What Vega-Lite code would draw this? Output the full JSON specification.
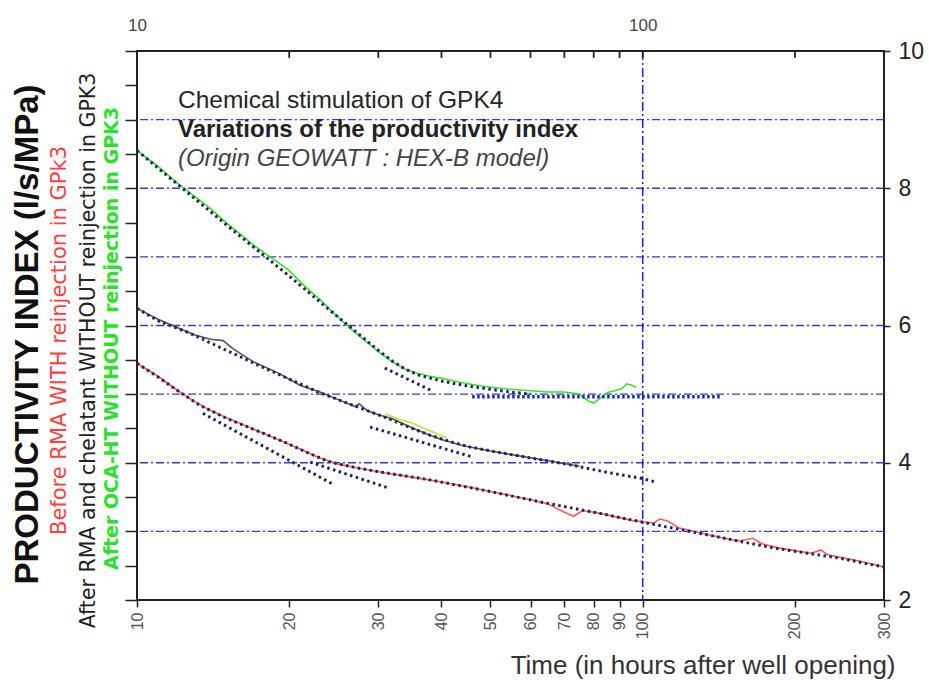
{
  "$schema": "https://vega.github.io/schema/vega-lite/v6.json",
  "width": 747,
  "height": 549,
  "autosize": {"type": "none"},
  "padding": {"left": 137, "top": 51, "right": 45, "bottom": 80},
  "background": "white",
  "config": {
    "view": {"stroke": "#222", "strokeWidth": 2},
    "font": "Liberation Sans"
  },
  "datasets": {
    "grid": [{"g": 3}, {"g": 4}, {"g": 5}, {"g": 6}, {"g": 7}, {"g": 8}, {"g": 9}],
    "vline": [{"t": 100}],
    "topticks": [{"t": 20}, {"t": 30}, {"t": 40}, {"t": 50}, {"t": 60}, {"t": 70}, {"t": 80}, {"t": 90}, {"t": 100}, {"t": 200}],
    "obs": [
      {"s": "red", "t": 10, "v": 5.45}, {"s": "red", "t": 11, "v": 5.26}, {"s": "red", "t": 12, "v": 5.06}, {"s": "red", "t": 13, "v": 4.89},
      {"s": "red", "t": 14, "v": 4.76}, {"s": "red", "t": 15, "v": 4.66}, {"s": "red", "t": 17, "v": 4.49}, {"s": "red", "t": 19, "v": 4.34},
      {"s": "red", "t": 21, "v": 4.2}, {"s": "red", "t": 23, "v": 4.07}, {"s": "red", "t": 25, "v": 3.98}, {"s": "red", "t": 28, "v": 3.91},
      {"s": "red", "t": 31, "v": 3.85}, {"s": "red", "t": 35, "v": 3.79}, {"s": "red", "t": 40, "v": 3.72}, {"s": "red", "t": 45, "v": 3.65},
      {"s": "red", "t": 50, "v": 3.58}, {"s": "red", "t": 55, "v": 3.52}, {"s": "red", "t": 60, "v": 3.46}, {"s": "red", "t": 65, "v": 3.4},
      {"s": "red", "t": 70, "v": 3.28}, {"s": "red", "t": 73, "v": 3.22}, {"s": "red", "t": 76, "v": 3.3}, {"s": "red", "t": 80, "v": 3.28},
      {"s": "red", "t": 85, "v": 3.24}, {"s": "red", "t": 90, "v": 3.2}, {"s": "red", "t": 95, "v": 3.16}, {"s": "red", "t": 100, "v": 3.14},
      {"s": "red", "t": 105, "v": 3.12}, {"s": "red", "t": 108, "v": 3.18}, {"s": "red", "t": 112, "v": 3.15}, {"s": "red", "t": 118, "v": 3.05},
      {"s": "red", "t": 125, "v": 3.01}, {"s": "red", "t": 135, "v": 2.95}, {"s": "red", "t": 145, "v": 2.9}, {"s": "red", "t": 155, "v": 2.86},
      {"s": "red", "t": 165, "v": 2.9}, {"s": "red", "t": 172, "v": 2.82}, {"s": "red", "t": 185, "v": 2.76}, {"s": "red", "t": 200, "v": 2.72},
      {"s": "red", "t": 215, "v": 2.68}, {"s": "red", "t": 225, "v": 2.73}, {"s": "red", "t": 232, "v": 2.66}, {"s": "red", "t": 250, "v": 2.61},
      {"s": "red", "t": 270, "v": 2.56}, {"s": "red", "t": 285, "v": 2.52}, {"s": "red", "t": 300, "v": 2.48},
      {"s": "black", "t": 10, "v": 6.25}, {"s": "black", "t": 11, "v": 6.09}, {"s": "black", "t": 12, "v": 5.97}, {"s": "black", "t": 13, "v": 5.86},
      {"s": "black", "t": 14, "v": 5.8}, {"s": "black", "t": 14.8, "v": 5.78}, {"s": "black", "t": 15.5, "v": 5.66}, {"s": "black", "t": 17, "v": 5.47},
      {"s": "black", "t": 19, "v": 5.31}, {"s": "black", "t": 21, "v": 5.13}, {"s": "black", "t": 23, "v": 5.03}, {"s": "black", "t": 25, "v": 4.92},
      {"s": "black", "t": 27, "v": 4.82}, {"s": "black", "t": 27.5, "v": 4.86}, {"s": "black", "t": 28.5, "v": 4.76}, {"s": "black", "t": 30, "v": 4.7},
      {"s": "black", "t": 32, "v": 4.64}, {"s": "black", "t": 34, "v": 4.55}, {"s": "black", "t": 36, "v": 4.47}, {"s": "black", "t": 38, "v": 4.4},
      {"s": "black", "t": 40, "v": 4.34}, {"s": "black", "t": 44, "v": 4.25}, {"s": "black", "t": 50, "v": 4.17}, {"s": "black", "t": 57, "v": 4.1},
      {"s": "black", "t": 65, "v": 4.03}, {"s": "black", "t": 75, "v": 3.95},
      {"s": "green", "t": 10, "v": 8.55}, {"s": "green", "t": 11, "v": 8.32}, {"s": "green", "t": 12, "v": 8.08}, {"s": "green", "t": 13, "v": 7.88},
      {"s": "green", "t": 14, "v": 7.7}, {"s": "green", "t": 15, "v": 7.5}, {"s": "green", "t": 16, "v": 7.33}, {"s": "green", "t": 17, "v": 7.17},
      {"s": "green", "t": 18, "v": 7.04}, {"s": "green", "t": 19, "v": 6.92}, {"s": "green", "t": 20, "v": 6.8}, {"s": "green", "t": 21, "v": 6.64},
      {"s": "green", "t": 22, "v": 6.5}, {"s": "green", "t": 23, "v": 6.38}, {"s": "green", "t": 24, "v": 6.24}, {"s": "green", "t": 25, "v": 6.12},
      {"s": "green", "t": 26, "v": 6.0}, {"s": "green", "t": 27, "v": 5.9}, {"s": "green", "t": 28, "v": 5.8}, {"s": "green", "t": 29, "v": 5.71},
      {"s": "green", "t": 30, "v": 5.62}, {"s": "green", "t": 32, "v": 5.47}, {"s": "green", "t": 34, "v": 5.36}, {"s": "green", "t": 36, "v": 5.3},
      {"s": "green", "t": 38, "v": 5.26}, {"s": "green", "t": 40, "v": 5.23}, {"s": "green", "t": 43, "v": 5.18}, {"s": "green", "t": 46, "v": 5.14},
      {"s": "green", "t": 50, "v": 5.1}, {"s": "green", "t": 55, "v": 5.07}, {"s": "green", "t": 60, "v": 5.05}, {"s": "green", "t": 65, "v": 5.03},
      {"s": "green", "t": 70, "v": 5.03}, {"s": "green", "t": 75, "v": 5.0}, {"s": "green", "t": 78, "v": 4.9}, {"s": "green", "t": 80, "v": 4.87},
      {"s": "green", "t": 82, "v": 4.93}, {"s": "green", "t": 85, "v": 5.02}, {"s": "green", "t": 88, "v": 5.05}, {"s": "green", "t": 91, "v": 5.08},
      {"s": "green", "t": 93, "v": 5.15}, {"s": "green", "t": 95, "v": 5.13}, {"s": "green", "t": 97, "v": 5.1},
      {"s": "green2", "t": 31, "v": 4.71}, {"s": "green2", "t": 33, "v": 4.63}, {"s": "green2", "t": 35, "v": 4.58}, {"s": "green2", "t": 37, "v": 4.5},
      {"s": "green2", "t": 39, "v": 4.43}, {"s": "green2", "t": 41, "v": 4.36}
    ],
    "model": [
      {"s": "green", "t": 10, "v": 8.55}, {"s": "green", "t": 15, "v": 7.47}, {"s": "green", "t": 20, "v": 6.72}, {"s": "green", "t": 25, "v": 6.12},
      {"s": "green", "t": 30, "v": 5.64}, {"s": "green", "t": 32, "v": 5.48}, {"s": "green", "t": 34, "v": 5.36}, {"s": "green", "t": 36, "v": 5.28},
      {"s": "green", "t": 40, "v": 5.19}, {"s": "green", "t": 45, "v": 5.12}, {"s": "green", "t": 50, "v": 5.07}, {"s": "green", "t": 55, "v": 5.03},
      {"s": "green", "t": 60, "v": 5.0},
      {"s": "black", "t": 10, "v": 6.25}, {"s": "black", "t": 11, "v": 6.07}, {"s": "black", "t": 12.7, "v": 5.89}, {"s": "black", "t": 15, "v": 5.64},
      {"s": "black", "t": 17.75, "v": 5.39}, {"s": "black", "t": 20, "v": 5.22}, {"s": "black", "t": 23, "v": 5.02}, {"s": "black", "t": 27.6, "v": 4.8},
      {"s": "black", "t": 32, "v": 4.62}, {"s": "black", "t": 35, "v": 4.5}, {"s": "black", "t": 38, "v": 4.4}, {"s": "black", "t": 42, "v": 4.3},
      {"s": "black", "t": 45.5, "v": 4.23}, {"s": "black", "t": 52, "v": 4.15}, {"s": "black", "t": 60, "v": 4.07}, {"s": "black", "t": 72, "v": 3.97},
      {"s": "black", "t": 85, "v": 3.86}, {"s": "black", "t": 100, "v": 3.77}, {"s": "black", "t": 106, "v": 3.72},
      {"s": "red", "t": 10, "v": 5.45}, {"s": "red", "t": 11, "v": 5.25}, {"s": "red", "t": 12.2, "v": 5.02}, {"s": "red", "t": 13.3, "v": 4.84},
      {"s": "red", "t": 15, "v": 4.65}, {"s": "red", "t": 17.5, "v": 4.45}, {"s": "red", "t": 20, "v": 4.27}, {"s": "red", "t": 22, "v": 4.13},
      {"s": "red", "t": 24.1, "v": 4.01}, {"s": "red", "t": 27, "v": 3.93}, {"s": "red", "t": 30, "v": 3.87}, {"s": "red", "t": 38, "v": 3.75},
      {"s": "red", "t": 50, "v": 3.58}, {"s": "red", "t": 62.6, "v": 3.43}, {"s": "red", "t": 80, "v": 3.28}, {"s": "red", "t": 99, "v": 3.14},
      {"s": "red", "t": 134, "v": 2.95}, {"s": "red", "t": 181, "v": 2.76}, {"s": "red", "t": 245, "v": 2.61}, {"s": "red", "t": 300, "v": 2.48}
    ],
    "tan": [
      {"s": "r1", "t": 13.5, "v": 4.72}, {"s": "r1", "t": 24.5, "v": 3.68},
      {"s": "r2", "t": 22, "v": 4.01}, {"s": "r2", "t": 31.2, "v": 3.64},
      {"s": "b1", "t": 28.9, "v": 4.52}, {"s": "b1", "t": 46.3, "v": 4.08},
      {"s": "g1", "t": 30.9, "v": 5.38}, {"s": "g1", "t": 38, "v": 5.06}
    ],
    "plat": [{"t": 46, "v": 4.96}, {"t": 142, "v": 4.96}],
    "t1": [{"label": "Chemical stimulation of GPK4"}],
    "t2": [{"label": "Variations of the productivity index"}],
    "t3": [{"label": "(Origin GEOWATT : HEX-B model)"}]
  },
  "resolve": {"axis": {"x": "independent", "y": "independent"}},
  "layer": [
    {
      "data": {"name": "grid"},
      "mark": {"type": "rule", "color": "#3838d8", "strokeWidth": 1.3, "strokeDash": [8, 3, 2, 3]},
      "encoding": {
        "y": {
          "field": "g", "type": "quantitative",
          "scale": {"domain": [2, 10], "nice": false, "zero": false},
          "axis": {
            "orient": "right", "values": [2, 4, 6, 8, 10], "domain": false, "grid": false,
            "tickSize": 6, "tickColor": "#222", "tickWidth": 1.5, "labelPadding": 8,
            "labelFont": "Liberation Sans", "labelFontSize": 23, "labelColor": "#222",
            "title": null, "minExtent": 0
          }
        }
      }
    },
    {
      "data": {"name": "vline"},
      "mark": {"type": "rule", "color": "#2020e0", "strokeWidth": 1.5, "strokeDash": [9, 3, 2, 3]},
      "encoding": {
        "x": {
          "field": "t", "type": "quantitative",
          "scale": {"type": "log", "domain": [10, 300], "nice": false},
          "axis": {
            "orient": "bottom", "values": [10, 20, 30, 40, 50, 60, 70, 80, 90, 100, 200, 300],
            "labelExpr": "format(datum.value, 'd')", "labelAngle": -90, "labelFlush": false, "labelOverlap": false,
            "domain": false, "grid": false, "tickSize": 7, "tickColor": "#222", "tickWidth": 1.5,
            "labelPadding": 5, "labelFont": "Liberation Sans", "labelFontSize": 16, "labelColor": "#555",
            "title": "Time (in hours after well opening)", "titleFont": "Liberation Sans", "titleFontSize": 26,
            "titleFontWeight": "normal", "titleColor": "#333", "titleX": 758, "titleY": 73,
            "titleAlign": "right", "titleBaseline": "alphabetic", "titleAngle": 0
          }
        }
      }
    },
    {
      "data": {"name": "topticks"},
      "mark": {"type": "rule", "color": "#222", "strokeWidth": 1.8},
      "encoding": {
        "x": {"field": "t", "type": "quantitative", "axis": null},
        "y": {"datum": 10, "type": "quantitative", "axis": null},
        "y2": {"datum": 9.9}
      }
    },
    {
      "data": {"name": "obs"},
      "mark": {"type": "line", "strokeWidth": 1.6},
      "encoding": {
        "x": {
          "field": "t", "type": "quantitative",
          "scale": {"type": "log", "domain": [10, 300], "nice": false},
          "axis": {
            "orient": "top", "values": [10, 100],
            "labelExpr": "datum.value == 10 ? '10' : '100'",
            "labelFlush": false, "labelOverlap": false, "domain": false, "grid": false, "ticks": false,
            "labelPadding": 17,
            "labelFont": "Liberation Sans", "labelFontSize": 17, "labelColor": "#444", "title": null
          }
        },
        "y": {
          "field": "v", "type": "quantitative",
          "scale": {"domain": [2, 10], "nice": false, "zero": false},
          "axis": {
            "orient": "left", "values": [2, 2.5, 3, 3.5, 4, 4.5, 5, 5.5, 6, 6.5, 7, 7.5, 8, 8.5, 9, 9.5, 10],
            "labels": false, "domain": false, "grid": false, "tickSize": 12, "tickColor": "#222", "tickWidth": 1.5,
            "minExtent": 0, "title": "After OCA-HT WITHOUT reinjection in GPK3",
            "titleFont": "DejaVu Sans", "titleFontSize": 19, "titleFontWeight": "bold", "titleColor": "#2ee02e",
            "titleX": -16, "titleY": 287, "titleAngle": -90, "titleBaseline": "bottom", "titleAlign": "center"
          }
        },
        "color": {
          "field": "s", "type": "nominal", "legend": null,
          "scale": {"domain": ["red", "black", "green", "green2"], "range": ["#ff5a5a", "#555555", "#3fe02a", "#b8e830"]}
        }
      }
    },
    {
      "data": {"name": "model"},
      "mark": {"type": "line", "color": "#1c2160", "strokeWidth": 3, "strokeDash": [2.5, 3.5]},
      "encoding": {
        "x": {"field": "t", "type": "quantitative", "axis": null},
        "y": {
          "field": "v", "type": "quantitative",
          "axis": {
            "orient": "left", "labels": false, "ticks": false, "domain": false, "grid": false, "minExtent": 0,
            "title": "After RMA and chelatant  WITHOUT reinjection in GPK3",
            "titleFont": "DejaVu Sans", "titleFontSize": 20.5, "titleFontWeight": "normal", "titleColor": "#222",
            "titleX": -39, "titleY": 299, "titleAngle": -90, "titleBaseline": "bottom", "titleAlign": "center"
          }
        },
        "detail": {"field": "s"}
      }
    },
    {
      "data": {"name": "tan"},
      "mark": {"type": "line", "color": "#1c2160", "strokeWidth": 3, "strokeDash": [2.5, 3.5]},
      "encoding": {
        "x": {"field": "t", "type": "quantitative", "axis": null},
        "y": {
          "field": "v", "type": "quantitative",
          "axis": {
            "orient": "left", "labels": false, "ticks": false, "domain": false, "grid": false, "minExtent": 0,
            "title": "Before RMA  WITH reinjection in GPk3",
            "titleFont": "DejaVu Sans", "titleFontSize": 21, "titleFontWeight": "normal", "titleColor": "#ff4040",
            "titleX": -68, "titleY": 289, "titleAngle": -90, "titleBaseline": "bottom", "titleAlign": "center"
          }
        },
        "detail": {"field": "s"}
      }
    },
    {
      "data": {"name": "plat"},
      "mark": {"type": "line", "color": "#1830a8", "strokeWidth": 3.5, "strokeDash": [2.5, 2.5]},
      "encoding": {
        "x": {"field": "t", "type": "quantitative", "axis": null},
        "y": {
          "field": "v", "type": "quantitative",
          "axis": {
            "orient": "left", "labels": false, "ticks": false, "domain": false, "grid": false, "minExtent": 0,
            "title": "PRODUCTIVITY INDEX (l/s/MPa)",
            "titleFont": "Liberation Sans", "titleFontSize": 33, "titleFontWeight": "bold", "titleColor": "#111",
            "titleX": -93, "titleY": 283, "titleAngle": -90, "titleBaseline": "bottom", "titleAlign": "center"
          }
        }
      }
    },
    {
      "data": {"name": "t1"},
      "mark": {"type": "text", "align": "left", "baseline": "alphabetic", "font": "Liberation Sans", "fontSize": 24.5, "color": "#262626"},
      "encoding": {
        "x": {"datum": 12.05, "type": "quantitative", "axis": null},
        "y": {"datum": 9.17, "type": "quantitative", "axis": null},
        "text": {"field": "label"}
      }
    },
    {
      "data": {"name": "t2"},
      "mark": {"type": "text", "align": "left", "baseline": "alphabetic", "font": "Liberation Sans", "fontSize": 24, "fontWeight": "bold", "color": "#222"},
      "encoding": {
        "x": {"datum": 12.05, "type": "quantitative", "axis": null},
        "y": {"datum": 8.75, "type": "quantitative", "axis": null},
        "text": {"field": "label"}
      }
    },
    {
      "data": {"name": "t3"},
      "mark": {"type": "text", "align": "left", "baseline": "alphabetic", "font": "Liberation Sans", "fontSize": 24, "fontStyle": "italic", "color": "#444"},
      "encoding": {
        "x": {"datum": 12.05, "type": "quantitative", "axis": null},
        "y": {"datum": 8.32, "type": "quantitative", "axis": null},
        "text": {"field": "label"}
      }
    }
  ]
}
